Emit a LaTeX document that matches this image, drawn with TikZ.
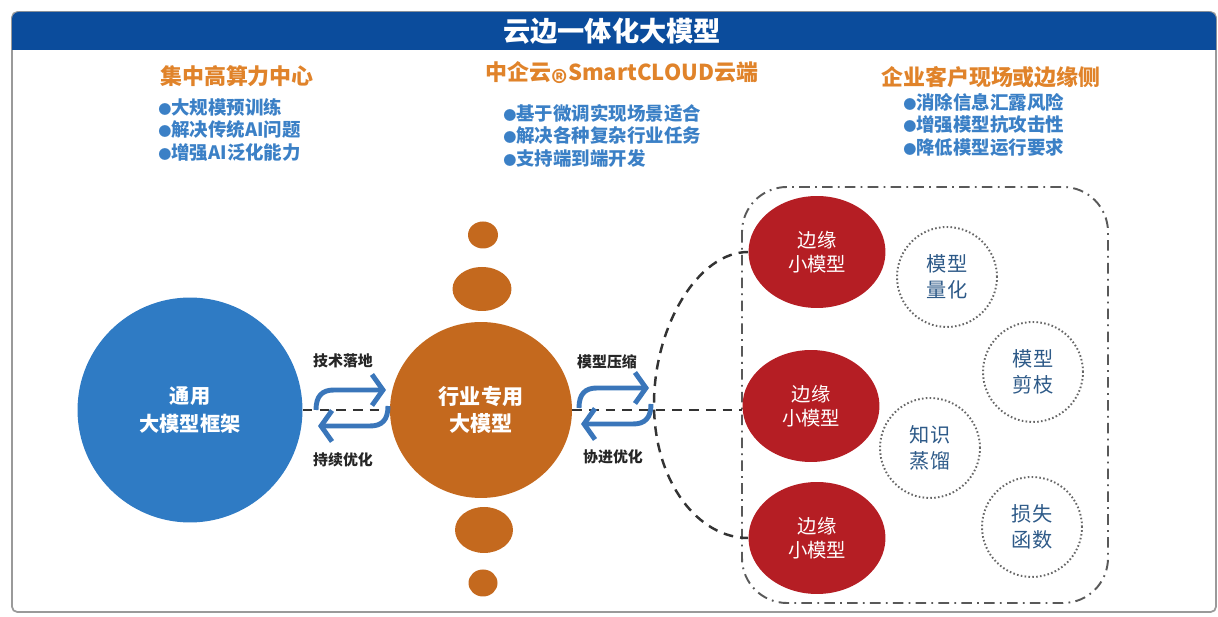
\documentclass[tikz,border=0pt]{standalone}
\usepackage{fontspec}
\setmainfont{Noto Sans CJK SC}
\usetikzlibrary{arrows.meta,positioning,shapes.geometric}
\definecolor{barblue}{HTML}{0B4C9C}
\definecolor{headorange}{HTML}{E0832A}
\definecolor{bulletblue}{HTML}{3B80C6}
\definecolor{circleblue}{HTML}{2F7BC4}
\definecolor{circleorange}{HTML}{C4691E}
\definecolor{edgered}{HTML}{B51E24}
\definecolor{arrowblue}{HTML}{3A76BA}
\definecolor{methodblue}{HTML}{2E5A88}
\definecolor{framegray}{HTML}{9A9A9A}
\newcommand{\blt}{{\fontsize{7.5}{7.5}\selectfont ●}}
\newcommand{\regmark}{\raisebox{-0.62em}{\scalebox{1.4}{®}}}
\tikzset{
  titletext/.style={
    text=white,
    font=\bfseries\fontsize{15.5}{18}\selectfont
  },
  headtext/.style={
    text=headorange,
    font=\bfseries\fontsize{12.5}{15}\selectfont
  },
  bullettext/.style={
    text=bulletblue,
    align=left,
    inner sep=0pt,
    font=\bfseries\fontsize{10.5}{12.8}\selectfont
  },
  bigblue/.style={
    circle,
    fill=circleblue,
    text=white,
    align=center,
    minimum size=4.5cm,
    font=\bfseries\fontsize{11.5}{16}\selectfont
  },
  bigorange/.style={
    ellipse,
    fill=circleorange,
    text=white,
    align=center,
    minimum width=3.64cm,
    minimum height=3.52cm,
    font=\bfseries\fontsize{12}{15.5}\selectfont
  },
  dotorange/.style={
    ellipse,
    fill=circleorange,
    inner sep=0pt
  },
  edgemodel/.style={
    ellipse,
    fill=edgered,
    text=white,
    align=center,
    minimum width=2.74cm,
    minimum height=2.24cm,
    font=\fontsize{11}{14}\selectfont
  },
  method/.style={
    circle,
    draw=black!60,
    line width=1.1pt,
    dash pattern=on 0.9pt off 1.3pt,
    text=methodblue,
    align=center,
    minimum size=2cm,
    font=\fontsize{11.5}{14.5}\selectfont
  },
  flowlabel/.style={
    text=black!85,
    font=\bfseries\fontsize{8.5}{10}\selectfont
  },
  linkdash/.style={
    draw=black!80,
    line width=1.4pt,
    dash pattern=on 5.5pt off 4pt
  },
  groupline/.style={
    draw=black!65,
    line width=1.1pt,
    dash pattern=on 6pt off 3pt on 1pt off 3pt
  },
  cyclearrow/.style={
    draw=arrowblue,
    line width=2.8pt,
    -{Straight Barb[length=0.22cm,width=0.62cm]}
  },
  swaparrows/.pic={
    \draw[cyclearrow] (-36,2) .. controls (-36,-12) and (-30,-18) .. (-18,-18) -- (34,-18);
    \draw[cyclearrow] (36,-2) .. controls (36,12) and (30,18) .. (18,18) -- (-34,18);
  }
}

\begin{document}
\begin{tikzpicture}[x=0.02cm,y=-0.02cm]
  \useasboundingbox (0,0) rectangle (1218,617);
  % frame and title bar
  \draw[framegray, line width=1pt, rounded corners=3pt] (12,12) rectangle (1216,612);
  \fill[barblue] (12,50) {[rounded corners=4pt] -- (12,12) -- (1216,12)} -- (1216,50) -- cycle;
  \node[titletext] (title) at (612,31) {云边一体化大模型};

  % three column headings
  \node[headtext] (headl) at (237,76) {集中高算力中心};
  \node[bullettext, anchor=north west] (listl) at (158,98) {\blt 大规模预训练\\\blt 解决传统AI问题\\\blt 增强AI泛化能力};
  \node[headtext] (headm) at (622,78) {中企云\regmark SmartCLOUD云端};
  \node[bullettext, anchor=north west] (listm) at (503,104) {\blt 基于微调实现场景适合\\\blt 解决各种复杂行业任务\\\blt 支持端到端开发};
  \node[headtext] (headr) at (991,77) {企业客户现场或边缘侧};
  \node[bullettext, anchor=north west] (listr) at (903,93) {\blt 消除信息汇露风险\\\blt 增强模型抗攻击性\\\blt 降低模型运行要求};

  % models
  \node[bigblue] (general) at (190,410) {通用\\大模型框架};
  \node[bigorange] (industry) at (481,410) {行业专用\\大模型};
  \node[dotorange, minimum width=0.6cm, minimum height=0.54cm] (dota) at (483,235) {};
  \node[dotorange, minimum width=1.18cm, minimum height=0.88cm] (dotb) at (482,289) {};
  \node[dotorange, minimum width=1.16cm, minimum height=0.92cm] (dotc) at (484,530) {};
  \node[dotorange, minimum width=0.58cm, minimum height=0.54cm] (dotd) at (483,583) {};

  % edge side
  \draw[groupline, rounded corners=0.9cm] (742,187) rectangle (1108,603);
  \node[edgemodel] (edgetop) at (817,252) {边缘\\小模型};
  \node[edgemodel] (edgemid) at (811,406) {边缘\\小模型};
  \node[edgemodel] (edgebot) at (817,538) {边缘\\小模型};
  \node[method] (quant) at (947,277) {模型\\量化};
  \node[method] (prune) at (1033,372) {模型\\剪枝};
  \node[method] (distill) at (930,448) {知识\\蒸馏};
  \node[method] (loss) at (1032,527) {损失\\函数};

  % links
  \coordinate (arcleft) at (654,404);
  \draw[linkdash] (general.east) -- (industry.west);
  \draw[linkdash] (industry.east) -- (industry.east -| edgemid.west);
  \draw[linkdash] (edgetop.west) .. controls +(-50,0) and +(0,-78) .. (arcleft)
    .. controls +(0,78) and +(-50,0) .. (edgebot.west);
  \pic at (352,408) {swaparrows};
  \pic at (615,406) {swaparrows};
  \node[flowlabel] (landing) at (343,361) {技术落地};
  \node[flowlabel] (refine) at (343,460) {持续优化};
  \node[flowlabel] (compress) at (607,362) {模型压缩};
  \node[flowlabel] (cotune) at (613,457) {协进优化};
\end{tikzpicture}
\end{document}
